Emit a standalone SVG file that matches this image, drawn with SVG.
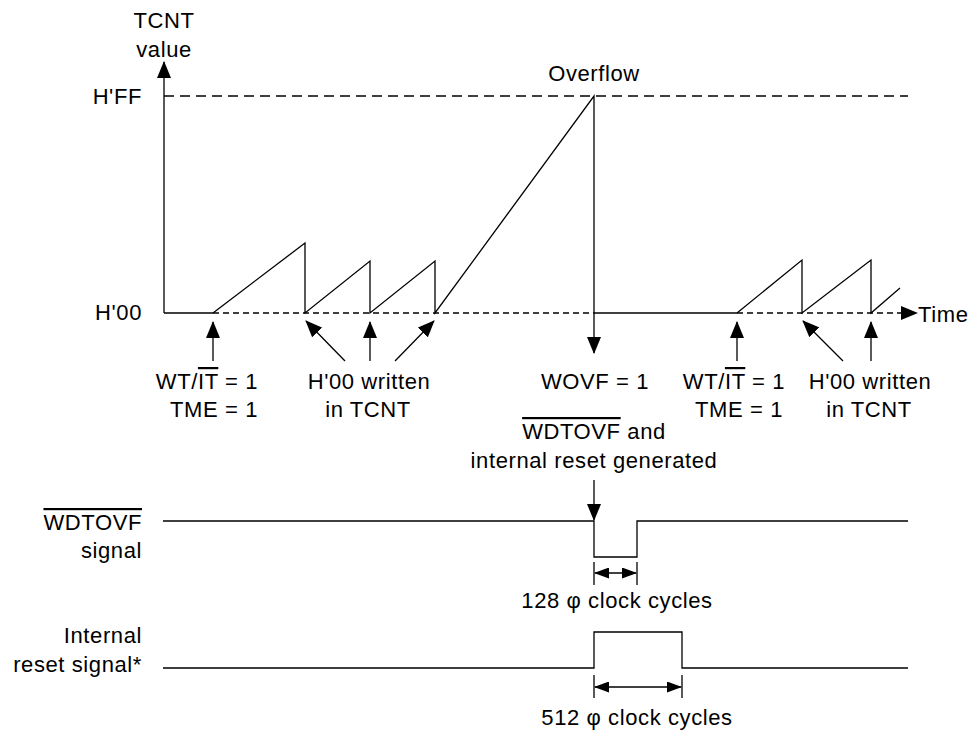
<svg xmlns="http://www.w3.org/2000/svg" width="980" height="732" viewBox="0 0 980 732">
<style>
  text { font-family: "Liberation Sans", Arial, sans-serif; font-size: 22px; letter-spacing: 0.6px; fill: #000; }
  .ln { stroke: #000; stroke-width: 1.3; fill: none; }
  .dl { stroke: #000; stroke-width: 1.3; fill: none; stroke-dasharray: 10 6; }
  .ds { stroke: #000; stroke-width: 1.3; fill: none; stroke-dasharray: 6 4; }
  .ov { text-decoration: overline; }
  .arr { marker-end: url(#ah); }
  .dbl { marker-start: url(#ah2); marker-end: url(#ah2); }
</style>
<defs>
  <marker id="ah" viewBox="0 0 17 14" refX="16" refY="7" markerWidth="17" markerHeight="14" orient="auto" markerUnits="userSpaceOnUse">
    <path d="M0,0 L17,7 L0,14 z" fill="#000"/>
  </marker>
  <marker id="ah2" viewBox="0 0 15 11" refX="14" refY="5.5" markerWidth="15" markerHeight="11" orient="auto-start-reverse" markerUnits="userSpaceOnUse">
    <path d="M0,0 L15,5.5 L0,11 z" fill="#000"/>
  </marker>
</defs>

<g id="axes">
  <line class="ln arr" x1="164" y1="313" x2="164" y2="62"/>
  <text x="164" y="28" text-anchor="middle">TCNT</text>
  <text x="164" y="57" text-anchor="middle">value</text>
  <text x="142" y="104" text-anchor="end">H'FF</text>
  <text x="142" y="320" text-anchor="end">H'00</text>
  <line class="dl" x1="164" y1="96" x2="908" y2="96"/>
  <line class="ln" x1="164" y1="313" x2="213" y2="313"/>
  <line class="ds" x1="213" y1="313" x2="594" y2="313"/>
  <line class="ln" x1="594" y1="313" x2="737" y2="313"/>
  <line class="ds arr" x1="737" y1="313" x2="917" y2="313"/>
  <text x="918" y="322">Time</text>
</g>

<g id="tcnt-waveform">
  <polyline class="ln" points="213,313 305,243 305,313 370,261 370,313 435,261 435,313 594,96 594,313"/>
  <polyline class="ln" points="737,313 802,260 802,313 871,260 871,313 900,288"/>
  <text x="594" y="81" text-anchor="middle">Overflow</text>
</g>

<g id="connectors">
  <line class="ln arr" x1="213" y1="361" x2="213" y2="322"/>
  <line class="ln arr" x1="345" y1="361" x2="306" y2="321"/>
  <line class="ln arr" x1="370" y1="361" x2="370" y2="322"/>
  <line class="ln arr" x1="395" y1="361" x2="434" y2="321"/>
  <line class="ln arr" x1="594" y1="313" x2="594" y2="353"/>
  <line class="ln arr" x1="737" y1="361" x2="737" y2="322"/>
  <line class="ln arr" x1="843" y1="361" x2="803" y2="321"/>
  <line class="ln arr" x1="871" y1="361" x2="871" y2="322"/>
  <line class="ln arr" x1="594" y1="480" x2="594" y2="520"/>
</g>

<g id="event-labels">
  <text x="258" y="389" text-anchor="end">WT/<tspan class="ov">IT</tspan> = 1</text>
  <text x="258" y="417" text-anchor="end">TME = 1</text>
  <text x="369" y="389" text-anchor="middle">H'00 written</text>
  <text x="368" y="417" text-anchor="middle">in TCNT</text>
  <text x="595" y="389" text-anchor="middle">WOVF = 1</text>
  <text x="785" y="389" text-anchor="end">WT/<tspan class="ov">IT</tspan> = 1</text>
  <text x="783" y="417" text-anchor="end">TME = 1</text>
  <text x="870" y="389" text-anchor="middle">H'00 written</text>
  <text x="869" y="417" text-anchor="middle">in TCNT</text>
  <text x="594" y="439" text-anchor="middle"><tspan class="ov">WDTOVF</tspan> and</text>
  <text x="594" y="468" text-anchor="middle">internal reset generated</text>
</g>

<g id="wdtovf-signal">
  <text x="142" y="530" text-anchor="end" class="ov">WDTOVF</text>
  <text x="142" y="558" text-anchor="end">signal</text>
  <polyline class="ln" points="163,521 594,521 594,557 637,557 637,521 908,521"/>
  <line class="ln" x1="594" y1="562" x2="594" y2="585"/>
  <line class="ln" x1="637" y1="562" x2="637" y2="585"/>
  <line class="ln dbl" x1="595" y1="573" x2="636" y2="573"/>
  <text x="617" y="608" text-anchor="middle">128 φ clock cycles</text>
</g>

<g id="internal-reset-signal">
  <text x="142" y="643" text-anchor="end">Internal</text>
  <text x="142" y="672" text-anchor="end">reset signal*</text>
  <polyline class="ln" points="163,668 594,668 594,632 682,632 682,668 908,668"/>
  <line class="ln" x1="594" y1="675" x2="594" y2="698"/>
  <line class="ln" x1="682" y1="675" x2="682" y2="698"/>
  <line class="ln dbl" x1="595" y1="687" x2="681" y2="687"/>
  <text x="637" y="725" text-anchor="middle">512 φ clock cycles</text>
</g>
</svg>
